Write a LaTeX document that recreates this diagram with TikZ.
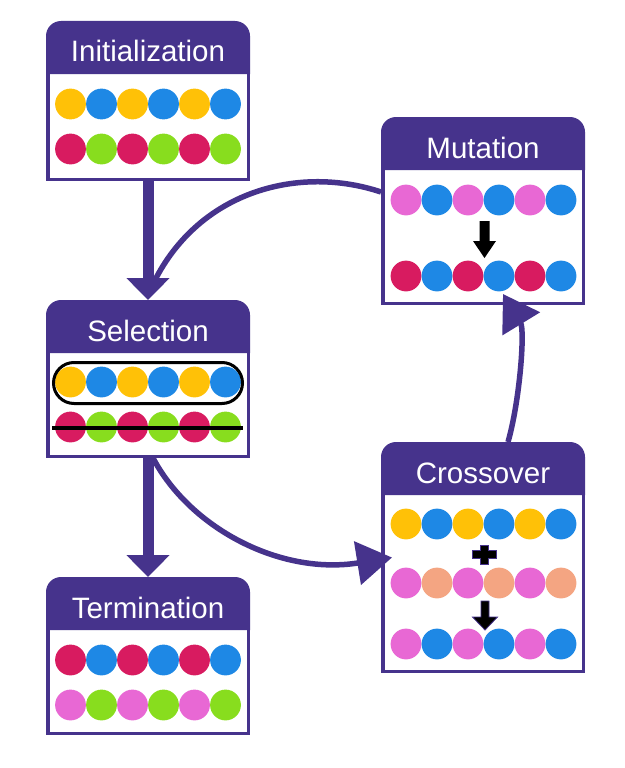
\documentclass[tikz,border=0pt]{standalone}
\usepackage{fontspec}
\setmainfont{Liberation Sans}
\usetikzlibrary{arrows.meta,calc}
\definecolor{gapurple}{HTML}{46338C}
\definecolor{gayellow}{HTML}{FFC107}
\definecolor{gablue}{HTML}{1E88E5}
\definecolor{gared}{HTML}{D81B60}
\definecolor{gagreen}{HTML}{88DD1E}
\definecolor{gapink}{HTML}{E868D4}
\definecolor{gasalmon}{HTML}{F4A582}
\tikzset{
  boxframe/.style={rectangle, inner sep=0pt, outer sep=0pt, draw=none},
  boxtitle/.style={anchor=base, text=white, inner sep=0pt, font=\fontsize{29.5}{32}\selectfont},
  fatarrow/.style={draw=gapurple, line width=11, -{Triangle[length=22pt,width=42pt]}},
  curveline/.style={draw=gapurple, line width=5.5},
  curvearrow/.style={curveline, -{Triangle[length=35pt,width=43pt]}},
  symbolfill/.style={fill=black},
  symboloutline/.style={fill=black, draw=gapurple, line width=0.8},
}
% #1 name, #2 left, #3 top, #4 right, #5 bottom, #6 title
\newcommand{\gabox}[6]{%
  \node[boxframe, minimum width={#4-#2}, minimum height={#5-#3}] (#1) at ({(#2+#4)/2},{(#3+#5)/2}) {};
  \filldraw[fill=white, draw=gapurple, line width=3.5] ({#2+1.75},{#3+30}) -- ({#2+1.75},{#5-1.75}) -- ({#4-1.75},{#5-1.75}) -- ({#4-1.75},{#3+30});
  \fill[gapurple] (#2,{#3+53}) -- (#2,{#3+15}) .. controls (#2,{#3+6.72}) and ({#2+6.72},#3) .. ({#2+15},#3) -- ({#4-15},#3) .. controls ({#4-6.72},#3) and (#4,{#3+6.72}) .. (#4,{#3+15}) -- (#4,{#3+53}) -- cycle;
  \node[boxtitle] (#1-title) at ({(#2+#4)/2},{#3+41}) {#6};
}
% #1 centre x, #2 y, #3..#8 colours
\newcommand{\garow}[8]{%
  \foreach \gacol [count=\gai from 0] in {#3,#4,#5,#6,#7,#8} {
    \fill[\gacol] ({#1-77.5+31*\gai},#2) circle[radius=15.4];
  }
}
\begin{document}
\begin{tikzpicture}[x=1pt,y=-1pt]
  \fill[white] (0,0) rectangle (624,768);
  \useasboundingbox (0,0) rectangle (624,768);

  \gabox{init}{46}{21}{250}{181}{Initialization}
  \garow{148}{104}{gayellow}{gablue}{gayellow}{gablue}{gayellow}{gablue}
  \garow{148}{149}{gared}{gagreen}{gared}{gagreen}{gared}{gagreen}

  \gabox{sel}{46}{300}{250}{458}{Selection}
  \garow{148}{382}{gayellow}{gablue}{gayellow}{gablue}{gayellow}{gablue}
  \garow{148}{427}{gared}{gagreen}{gared}{gagreen}{gared}{gagreen}
  \draw[black, line width=3, rounded corners=20.5] (53.5,362.5) rectangle (242.5,403.5);
  \draw[black, line width=4] (52,428) -- (243,428);

  \gabox{term}{46}{577}{250}{735}{Termination}
  \garow{148}{660}{gared}{gablue}{gared}{gablue}{gared}{gablue}
  \garow{148}{705}{gapink}{gagreen}{gapink}{gagreen}{gapink}{gagreen}

  \gabox{mut}{381}{117}{585}{305}{Mutation}
  \garow{483.5}{200}{gapink}{gablue}{gapink}{gablue}{gapink}{gablue}
  \garow{483.5}{276}{gared}{gablue}{gared}{gablue}{gared}{gablue}
  \fill[symbolfill] (479.5,221) -- (489.5,221) -- (489.5,241) -- (496,241) -- (484.5,258) -- (473,241) -- (479.5,241) -- cycle;

  \gabox{cross}{381}{442}{585}{673}{Crossover}
  \garow{483.5}{524}{gayellow}{gablue}{gayellow}{gablue}{gayellow}{gablue}
  \garow{483.5}{583}{gapink}{gasalmon}{gapink}{gasalmon}{gapink}{gasalmon}
  \garow{483.5}{644}{gapink}{gablue}{gapink}{gablue}{gapink}{gablue}
  \filldraw[symboloutline] (480,545) -- (488,545) -- (488,550.5) -- (496,550.5) -- (496,558.5) -- (488,558.5) -- (488,564) -- (480,564) -- (480,558.5) -- (472,558.5) -- (472,550.5) -- (480,550.5) -- cycle;
  \filldraw[symboloutline] (481,601) -- (489,601) -- (489,617) -- (497.5,617) -- (485,630) -- (472.5,617) -- (481,617) -- cycle;

  % connectors
  \draw[curveline] ($(mut.north west)+(0,75)$) .. controls +(-81,-27) and +(46,-92) .. ($(sel.north)+(6,-18)$);
  \draw[fatarrow] (init.south) -- (sel.north);
  \draw[fatarrow] (sel.south) -- (term.north);
  \draw[curvearrow] ($(sel.south)+(5,0)$) .. controls +(37,70) and +(-112,18) .. ($(cross.west)+(11,0)$);
  \draw[curvearrow] ($(cross.north)+(25,0)$) .. controls +(12,-42) and +(22,36) .. ($(mut.south)+(20,-11)$);
\end{tikzpicture}
\end{document}
